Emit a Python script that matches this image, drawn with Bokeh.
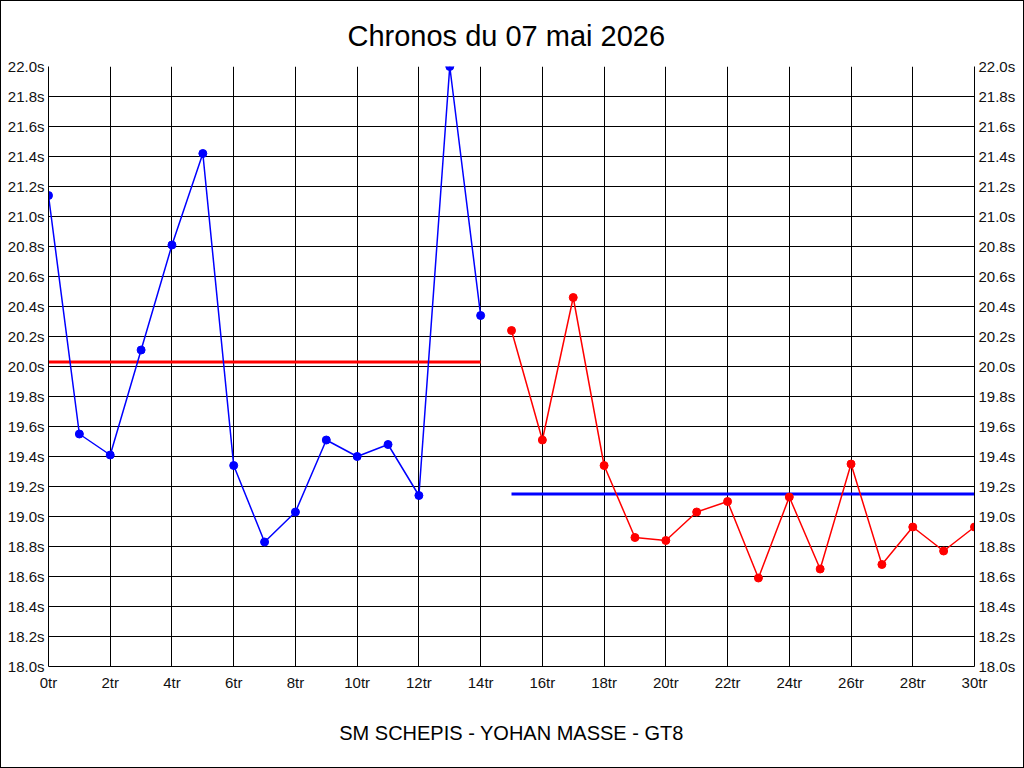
from bokeh.plotting import figure
from bokeh.models import LinearAxis, FixedTicker, PrintfTickFormatter, Range1d
from bokeh.embed import file_html
from bokeh.resources import INLINE

title_text = "Chronos du 07 mai 2026"
subtitle_text = "SM SCHEPIS - YOHAN MASSE - GT8"

laps_a = list(range(0, 15))
times_a = [21.14, 19.55, 19.41, 20.11, 20.81, 21.42, 19.34, 18.83, 19.03,
           19.51, 19.40, 19.48, 19.14, 22.00, 20.34]
laps_b = list(range(15, 31))
times_b = [20.24, 19.51, 20.46, 19.34, 18.86, 18.84, 19.03, 19.10, 18.59,
           19.13, 18.65, 19.35, 18.68, 18.93, 18.77, 18.93]
avg_a_x = [0, 14]
avg_a = [20.03, 20.03]
avg_b_x = [15, 30]
avg_b = [19.15, 19.15]

x_ticks = list(range(0, 31, 2))
y_ticks = [round(18.0 + 0.2 * i, 1) for i in range(21)]

FONT = "Liberation Sans"

p = figure(width=1024, height=768, output_backend="svg", toolbar_location=None,
           x_range=Range1d(0, 30), y_range=Range1d(18.0, 22.0),
           min_border_left=47, min_border_right=51, min_border_top=65,
           min_border_bottom=103, title=title_text)
p.styles = {"border": "1px solid black", "box-sizing": "border-box"}

p.title.align = "left"
p.title.text_font = FONT
p.title.text_font_size = "29px"
p.title.text_font_style = "normal"
p.title.text_color = "black"
p.title.standoff = 29
p.title.offset = 299

p.outline_line_color = None
p.background_fill_color = "white"
p.border_fill_color = "white"

for g in p.grid:
    g.grid_line_color = "black"
    g.grid_line_alpha = 1.0
    g.grid_line_width = 1
p.xgrid.ticker = FixedTicker(ticks=x_ticks)
p.ygrid.ticker = FixedTicker(ticks=y_ticks)

xa = p.xaxis[0]
xa.ticker = FixedTicker(ticks=x_ticks)
xa.formatter = PrintfTickFormatter(format="%dtr")
xa.axis_label = subtitle_text
xa.axis_label_text_font = FONT
xa.axis_label_text_font_size = "20px"
xa.axis_label_text_font_style = "normal"
xa.axis_label_text_color = "black"
xa.axis_label_standoff = 28

ya = p.yaxis[0]
ya.ticker = FixedTicker(ticks=y_ticks)
ya.formatter = PrintfTickFormatter(format="%.1fs")

ra = LinearAxis(ticker=FixedTicker(ticks=y_ticks), formatter=PrintfTickFormatter(format="%.1fs"))
p.add_layout(ra, "right")

for ax in [xa, ya, ra]:
    ax.axis_line_color = "black"
    ax.major_tick_line_color = None
    ax.minor_tick_line_color = None
    ax.major_tick_out = 0
    ax.major_tick_in = 0
    ax.major_label_text_font = FONT
    ax.major_label_text_font_size = "15px"
    ax.major_label_text_color = "#111111"
xa.major_label_standoff = 7
ya.major_label_standoff = 4
ra.major_label_standoff = 4

p.line(avg_a_x, avg_a, line_color="#ff0000", line_width=3)
p.line(avg_b_x, avg_b, line_color="#0000ff", line_width=3)

p.line(laps_a, times_a, line_color="#0000ff", line_width=1.5)
p.scatter(laps_a, times_a, size=8, fill_color="#0000ff", line_color="#0000ff")
p.line(laps_b, times_b, line_color="#ff0000", line_width=1.5)
p.scatter(laps_b, times_b, size=8, fill_color="#ff0000", line_color="#ff0000")

open("out.html", "w").write(file_html(p, INLINE))
